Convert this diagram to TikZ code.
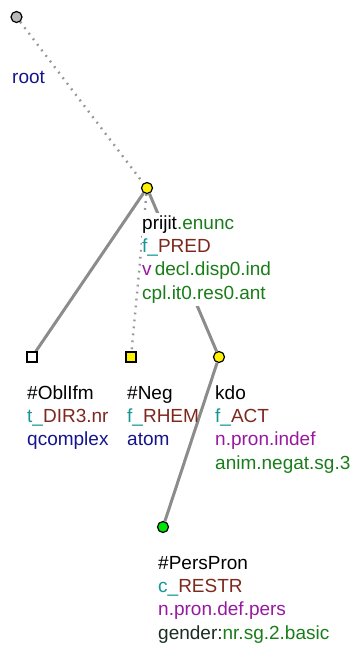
\documentclass[tikz,border=0pt]{standalone}
\usepackage{fontspec}
\setmainfont{Liberation Sans}
\usetikzlibrary{backgrounds}

\definecolor{tblue}{RGB}{20,20,140}
\definecolor{tgreen}{RGB}{25,125,25}
\definecolor{tteal}{RGB}{20,150,150}
\definecolor{tbrown}{RGB}{125,40,30}
\definecolor{tpurple}{RGB}{150,25,160}
\definecolor{tdark}{RGB}{25,45,35}
\definecolor{edgegray}{RGB}{140,140,140}

\begin{document}
\begin{tikzpicture}[
  x = 1pt, y = -1pt,
  tnode/.style = {circle, draw=black, line width=1.2pt, inner sep=0pt,
                  minimum size=11pt},
  qnode/.style = {rectangle, draw=black, line width=1.2pt, inner sep=0pt,
                  minimum size=10pt},
  lbl/.style   = {anchor=north west, inner sep=0pt, align=left,
                  font=\fontsize{19}{23.3}\selectfont},
  edge/.style  = {draw=edgegray, line width=3pt},
  aux/.style   = {draw=edgegray!90, line width=2.4pt,
                  dash pattern=on 1.8pt off 5.2pt}
]
\useasboundingbox (0,0) rectangle (353,646);

\node[tnode, fill=gray!55]        (root) at (16.5,17)  {};
\node[tnode, fill=yellow]         (pred) at (147,188)  {};
\node[qnode, fill=white]          (obl)  at (32,357)   {};
\node[qnode, fill=yellow]         (neg)  at (131,357)  {};
\node[tnode, fill=yellow]         (kdo)  at (219,357)  {};
\node[tnode, fill=green!90!black] (pers) at (163,527)  {};

\node[lbl] (rootlbl) at (12,66.7)
  {\strut\textcolor{tblue}{root}};
\node[lbl, fill=white] (predlbl) at (142,212.7)
  {\strut prijit\textcolor{tgreen}{.enunc}\\
   \textcolor{tteal}{f\_}\textcolor{tbrown}{PRED}\\
   \textcolor{tpurple}{v}\,\textcolor{tgreen}{decl.disp0.ind}\\
   \textcolor{tgreen}{cpl.it0.res0.ant}\strut};
\node[lbl] (obllbl) at (27,382.7)
  {\strut\#OblIfm\\
   \textcolor{tteal}{t\_}\textcolor{tbrown}{DIR3.nr}\\
   \textcolor{tblue}{qcomplex}\strut};
\node[lbl] (neglbl) at (127,382.7)
  {\strut\#Neg\\
   \textcolor{tteal}{f\_}\textcolor{tbrown}{RHEM}\\
   \textcolor{tblue}{atom}\strut};
\node[lbl] (kdolbl) at (215,382.7)
  {\strut kdo\\
   \textcolor{tteal}{f\_}\textcolor{tbrown}{ACT}\\
   \textcolor{tpurple}{n.pron.indef}\\
   \textcolor{tgreen}{anim.negat.sg.3}\strut};
\node[lbl] (perslbl) at (158,552.7)
  {\strut\#PersPron\\
   \textcolor{tteal}{c\_}\textcolor{tbrown}{RESTR}\\
   \textcolor{tpurple}{n.pron.def.pers}\\
   \textcolor{tdark}{gender:}\textcolor{tgreen}{nr.sg.2.basic}\strut};

\begin{scope}[on background layer]
\draw[aux]  (root) -- (pred);
\draw[edge] (pred) -- (obl);
\draw[aux]  (pred) -- (neg);
\draw[edge] (pred) -- (kdo);
\draw[edge] (kdo)  -- (pers);
\end{scope}
\end{tikzpicture}
\end{document}
